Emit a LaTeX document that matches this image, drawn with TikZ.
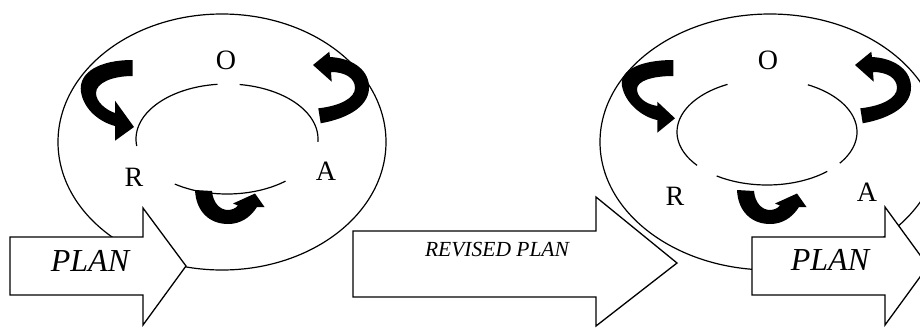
\documentclass[tikz,border=0pt]{standalone}
\usepackage{fontspec}
\setmainfont{Liberation Serif}
\begin{document}
\begin{tikzpicture}[x=1pt,y=-1pt,
  outline/.style={line width=1.2pt},
  bigarrow/.style={draw=black,fill=white,line width=1.3pt,line join=miter},
  curl/.style={fill=black},
  lbl/.style={font=\fontsize{28}{28}\selectfont,inner sep=0pt,anchor=base},
  plantext/.style={font=\fontsize{32}{32}\selectfont\itshape,inner sep=0pt,anchor=base},
  revtext/.style={font=\fontsize{21.5}{21.5}\selectfont\itshape,inner sep=0pt,anchor=base}]
\useasboundingbox (0,0) rectangle (920,327);
\clip (0,0) rectangle (920,327);
\fill[white] (0,0) rectangle (920,327);

% ---------- left diagram ----------
\draw[outline] (222,142) ellipse [x radius=164, y radius=128];
\draw[outline] plot[domain=172.7:264, samples=40, smooth] ({227+91*cos(\x)},{139+55*sin(\x)});
\draw[outline] plot[domain=278:363, samples=40, smooth] ({227+91*cos(\x)},{139+55*sin(\x)});
\draw[outline] plot[domain=50:125, samples=40, smooth] ({227+91*cos(\x)},{139+55*sin(\x)});

% top-left curl
\fill[curl] (132.7,60) .. controls (100,60) and (78,72) .. (81,92) .. controls (84,110) and (100,122) .. (115,126) -- (115,140.7) -- (134,127) -- (115,100.7) -- (115,113) .. controls (106,110) and (96,102) .. (96,93) .. controls (96,83) and (112,76) .. (132.7,76) -- cycle;
% top-right curl
\fill[curl] (318.3,108.3) -- (320.7,123.3) .. controls (350,118) and (370,105) .. (369,86) .. controls (368,68) and (350,58) .. (330,57) -- (329.3,51.7) -- (313,65) -- (331.7,81.7) -- (331,72) .. controls (345,72) and (355,78) .. (355,88) .. controls (355,98) and (340,106) .. (318.3,108.3) -- cycle;
% bottom curl
\fill[curl] (195,190) -- (212,191) .. controls (213,203) and (220,210) .. (228,210) .. controls (232,210) and (236,208) .. (238,205.5) -- (233,203.5) -- (255,193.5) -- (264.5,207) -- (257,207) .. controls (250,218) and (240,224) .. (228,224) .. controls (210,224) and (196,212) .. (195,190) -- cycle;

\node[lbl] (o1) at (226,69.5) {O};
\node[lbl] (r1) at (134,186) {R};
\node[lbl] (a1) at (326,180.7) {A};

% ---------- middle arrow ----------
\draw[bigarrow] (353,231) -- (596,231) -- (596,197) -- (677,263) -- (596,326) -- (596,297) -- (353,297) -- cycle;
\node[revtext] (rev) at (497,256.7) {REVISED PLAN};

% ---------- right diagram ----------
\draw[outline] (770,142) ellipse [x radius=170, y radius=128];
\draw[outline] plot[domain=141:244, samples=40, smooth] ({767+90*cos(\x)},{132+53*sin(\x)});
\draw[outline] plot[domain=297:396, samples=40, smooth] ({767+90*cos(\x)},{132+53*sin(\x)});
\draw[outline] plot[domain=48:124, samples=40, smooth] ({767+90*cos(\x)},{132+53*sin(\x)});

\fill[curl] (673.3,60) .. controls (641,60) and (619,70) .. (622,86) .. controls (625,103) and (642,117) .. (657.3,120) -- (657.3,132.7) -- (675,118.3) -- (657.3,101.7) -- (657.3,106) .. controls (645,104) and (637,97) .. (637,89) .. controls (637,81) and (652,76) .. (673.3,76) -- cycle;
\begin{scope}[shift={(542,0)}]
\fill[curl] (318.3,108.3) -- (320.7,123.3) .. controls (350,118) and (370,105) .. (369,86) .. controls (368,68) and (350,58) .. (330,57) -- (329.3,51.7) -- (313,65) -- (331.7,81.7) -- (331,72) .. controls (345,72) and (355,78) .. (355,88) .. controls (355,98) and (340,106) .. (318.3,108.3) -- cycle;
\fill[curl] (195,190) -- (212,191) .. controls (213,203) and (220,210) .. (228,210) .. controls (232,210) and (236,208) .. (238,205.5) -- (233,203.5) -- (255,193.5) -- (264.5,207) -- (257,207) .. controls (250,218) and (240,224) .. (228,224) .. controls (210,224) and (196,212) .. (195,190) -- cycle;
\end{scope}

\node[lbl] (o2) at (768,69) {O};
\node[lbl] (r2) at (675,205) {R};
\node[lbl] (a2) at (867,201.7) {A};

% ---------- PLAN arrows ----------
\draw[bigarrow] (10,237) -- (143,237) -- (143,208) -- (186,266) -- (143,325) -- (143,295) -- (10,295) -- cycle;
\node[plantext] (plan1) at (90,271.7) {PLAN};

\draw[bigarrow] (752,237) -- (885,237) -- (885,207) -- (928,266) -- (885,325) -- (885,295) -- (752,295) -- cycle;
\node[plantext] (plan2) at (830,270) {PLAN};
\end{tikzpicture}
\end{document}
